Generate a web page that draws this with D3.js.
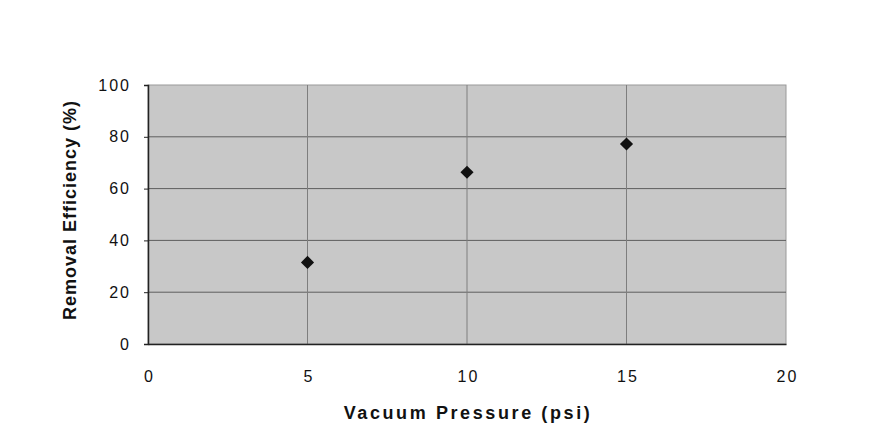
<!DOCTYPE html>
<html>
<head>
<meta charset="utf-8">
<script src="https://cdn.jsdelivr.net/npm/d3@7"></script>
<style>
    body { margin: 0; background: #fff; }
    svg text { font-family: "Liberation Sans", Arial, sans-serif; fill: #111; }
</style>
</head>
<body>
<svg id="chart"></svg>
<script>
const pressure = [5, 10, 15];
const efficiency = [31.5, 66.3, 77.2];
const xTicks = [0, 5, 10, 15, 20];
const yTicks = [0, 20, 40, 60, 80, 100];

const width = 894, height = 434;
const margin = { top: 85, right: 108, bottom: 90, left: 148 };
const w = width - margin.left - margin.right;
const h = height - margin.top - margin.bottom;

const svg = d3.select("#chart")
    .attr("width", width)
    .attr("height", height);

const g = svg.append("g")
    .attr("transform", `translate(${margin.left},${margin.top})`);

const xscale = d3.scaleLinear().domain([0, 20]).range([0, w]);
const yscale = d3.scaleLinear().domain([0, 100]).range([h, 0]);

// plot area
g.append("rect")
    .attr("width", w)
    .attr("height", h)
    .attr("fill", "#c8c8c8")
    .attr("stroke", "#9a9a9a");

// grid
g.selectAll(".hgrid")
    .data(yTicks.slice(1, -1))
    .enter().append("line")
    .attr("x1", 0).attr("x2", w)
    .attr("y1", d => yscale(d)).attr("y2", d => yscale(d))
    .attr("stroke", "#5e5e5e")
    .attr("stroke-width", 1);

g.selectAll(".vgrid")
    .data(xTicks.slice(1, -1))
    .enter().append("line")
    .attr("y1", 0).attr("y2", h)
    .attr("x1", d => xscale(d)).attr("x2", d => xscale(d))
    .attr("stroke", "#7e7e7e")
    .attr("stroke-width", 1);

// axes
const xAxis = g.append("g")
    .attr("transform", `translate(0,${h})`)
    .call(d3.axisBottom(xscale).tickValues(xTicks).tickSize(0).tickPadding(27));
xAxis.select(".domain").attr("stroke", "#222").attr("stroke-width", 1.5);
xAxis.selectAll("text")
    .style("font-size", "16px")
    .style("letter-spacing", "2px")
    .attr("dx", "1px");

const yAxis = g.append("g")
    .call(d3.axisLeft(yscale).tickValues(yTicks).tickSize(4).tickPadding(13));
yAxis.select(".domain").attr("stroke", "#222").attr("stroke-width", 1.5);
yAxis.selectAll("line").attr("stroke", "#222");
yAxis.selectAll("text")
    .style("font-size", "16px")
    .style("letter-spacing", "2px");

// points
g.selectAll(".pt")
    .data(pressure)
    .enter().append("path")
    .attr("class", "pt")
    .attr("transform", (d, i) => `translate(${xscale(d)},${yscale(efficiency[i])})`)
    .attr("d", d3.symbol().type(d3.symbolDiamond2).size(110))
    .attr("fill", "#111");

// titles
svg.append("text")
    .attr("x", margin.left + w / 2 + 1)
    .attr("y", 419)
    .attr("text-anchor", "middle")
    .style("font-size", "18px")
    .style("font-weight", "bold")
    .style("letter-spacing", "2.6px")
    .text("Vacuum Pressure (psi)");

svg.append("text")
    .attr("transform", `translate(76,210) rotate(-90)`)
    .attr("text-anchor", "middle")
    .style("font-size", "18px")
    .style("font-weight", "bold")
    .style("letter-spacing", "1px")
    .text("Removal Efficiency (%)");
</script>
</body>
</html>
